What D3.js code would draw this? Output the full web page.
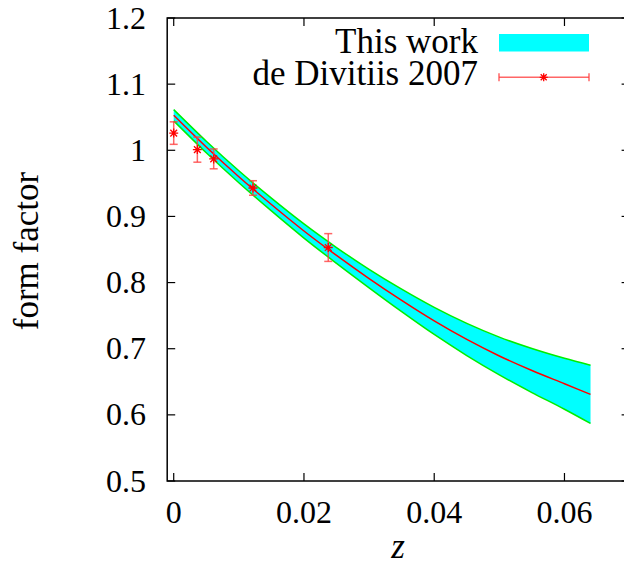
<!DOCTYPE html>
<html>
<head>
<meta charset="utf-8">
<script src="https://cdn.jsdelivr.net/npm/d3@7/dist/d3.min.js"></script>
<style>
html,body{margin:0;padding:0;background:#fff;}
svg text{font-family:"Liberation Serif","DejaVu Serif",serif;fill:#000;}
</style>
</head>
<body>
<svg id="chart" width="624" height="575"></svg>
<script>
// ---- data ----
const bandZ     = [0, 0.005, 0.01, 0.015, 0.02, 0.025, 0.03, 0.035, 0.04, 0.045, 0.05, 0.055, 0.06, 0.064];
const bandMid   = [1.053, 1.005, 0.960, 0.918, 0.878, 0.841, 0.806, 0.773, 0.742, 0.714, 0.689, 0.667, 0.647, 0.631];
const bandUpper = [1.0615, 1.0137, 0.969, 0.9277, 0.8887, 0.853, 0.820, 0.790, 0.7625, 0.7383, 0.7175, 0.7003, 0.6855, 0.675];
const bandLower = [1.0445, 0.9963, 0.951, 0.9083, 0.8673, 0.829, 0.792, 0.756, 0.7215, 0.6897, 0.6605, 0.6337, 0.6085, 0.587];

const ptZ   = [0.0, 0.00363, 0.00614, 0.01217, 0.02373];
const ptVal = [1.026, 1.001, 0.987, 0.943, 0.853];
const ptErr = [0.017, 0.019, 0.015, 0.011, 0.021];

const xTicks = [0, 0.02, 0.04, 0.06];
const xTickLabels = ["0", "0.02", "0.04", "0.06"];
const yTicks = [0.5, 0.6, 0.7, 0.8, 0.9, 1.0, 1.1, 1.2];
const yTickLabels = ["0.5", "0.6", "0.7", "0.8", "0.9", "1", "1.1", "1.2"];

const legendLabels = ["This work", "de Divitiis 2007"];

// ---- layout ----
const svg = d3.select("#chart");
svg.append("rect").attr("width",624).attr("height",575).attr("fill","#fff");

const x = d3.scaleLinear().domain([-0.001, 0.07]).range([167.2, 629.6]);
const y = d3.scaleLinear().domain([0.5, 1.2]).range([481, 18]);

const band = bandZ.map((z,i)=>({z, m:bandMid[i], u:bandUpper[i], l:bandLower[i]}));
const pts = ptZ.map((z,i)=>({z, v:ptVal[i], e:ptErr[i]}));

// band
svg.append("path").datum(band)
  .attr("d", d3.area().x(d=>x(d.z)).y0(d=>y(d.l)).y1(d=>y(d.u)).curve(d3.curveMonotoneX))
  .attr("fill","#00ffff");
["u","l"].forEach(k=>{
  svg.append("path").datum(band)
    .attr("d", d3.line().x(d=>x(d.z)).y(d=>y(d[k])).curve(d3.curveMonotoneX))
    .attr("fill","none").attr("stroke","#00ee00").attr("stroke-width",1.5);
});
svg.append("path").datum(band)
  .attr("d", d3.line().x(d=>x(d.z)).y(d=>y(d.m)).curve(d3.curveMonotoneX))
  .attr("fill","none").attr("stroke","#ff0000").attr("stroke-width",1.5);

// error bars
const errColor = "#ff4040";
const g = svg.append("g");
function star(sel, cx, cy, r){
  const p = `M${cx-r},${cy}H${cx+r}M${cx},${cy-r}V${cy+r}M${cx-r*0.75},${cy-r*0.75}L${cx+r*0.75},${cy+r*0.75}M${cx-r*0.75},${cy+r*0.75}L${cx+r*0.75},${cy-r*0.75}`;
  sel.append("path").attr("d",p).attr("stroke","#ff0000").attr("stroke-width",1.3).attr("fill","none");
}
pts.forEach(d=>{
  const cx = x(d.z), y1 = y(d.v+d.e), y2 = y(d.v-d.e);
  g.append("line").attr("x1",cx).attr("x2",cx).attr("y1",y1).attr("y2",y2)
    .attr("stroke",errColor).attr("stroke-width",1.5).attr("opacity",0.8);
  [y1,y2].forEach(yy=>g.append("line").attr("x1",cx-4).attr("x2",cx+4).attr("y1",yy).attr("y2",yy)
    .attr("stroke",errColor).attr("stroke-width",1.5).attr("opacity",0.8));
  star(g, cx, y(d.v), 4.5);
});

// frame
const x0 = x.range()[0], x1 = x.range()[1], yB = y.range()[0], yT = y.range()[1];
svg.append("rect").attr("x",x0).attr("y",yT).attr("width",x1-x0).attr("height",yB-yT)
  .attr("fill","none").attr("stroke","#000").attr("stroke-width",1.5);

// ticks
const tl = 8;
xTicks.forEach((t,i)=>{
  const xx = x(t);
  svg.append("line").attr("x1",xx).attr("x2",xx).attr("y1",yB).attr("y2",yB-tl).attr("stroke","#000").attr("stroke-width",1.2);
  svg.append("line").attr("x1",xx).attr("x2",xx).attr("y1",yT).attr("y2",yT+tl).attr("stroke","#000").attr("stroke-width",1.2);
  svg.append("text").attr("x",xx).attr("y",523).attr("text-anchor","middle").attr("font-size",32).text(xTickLabels[i]);
});
yTicks.forEach((t,i)=>{
  const yy = y(t);
  svg.append("line").attr("x1",x0).attr("x2",x0+tl).attr("y1",yy).attr("y2",yy).attr("stroke","#000").attr("stroke-width",1.2);
  svg.append("line").attr("x1",x1).attr("x2",x1-tl).attr("y1",yy).attr("y2",yy).attr("stroke","#000").attr("stroke-width",1.2);
  svg.append("text").attr("x",146).attr("y",yy+10.5).attr("text-anchor","end").attr("font-size",32).text(yTickLabels[i]);
});

// axis labels
svg.append("text").attr("transform","translate(38,251) rotate(-90)").attr("text-anchor","middle")
  .attr("font-size",35).text("form factor");
svg.append("text").attr("x",398).attr("y",558).attr("text-anchor","middle")
  .attr("font-size",35).attr("font-style","italic").text("z");

// legend
svg.append("text").attr("x",478).attr("y",53).attr("text-anchor","end").attr("font-size",35).text(legendLabels[0]);
svg.append("rect").attr("x",499).attr("y",34).attr("width",90).attr("height",17.5).attr("fill","#00ffff");
svg.append("text").attr("x",478).attr("y",85).attr("text-anchor","end").attr("font-size",35).text(legendLabels[1]);
svg.append("line").attr("x1",499).attr("x2",589).attr("y1",77.3).attr("y2",77.3).attr("stroke",errColor).attr("stroke-width",1.5).attr("opacity",0.8);
[499,589].forEach(xx=>svg.append("line").attr("x1",xx).attr("x2",xx).attr("y1",73.3).attr("y2",81.3).attr("stroke",errColor).attr("stroke-width",1.5).attr("opacity",0.8));
star(svg, 543.7, 77.3, 4);
</script>
</body>
</html>
